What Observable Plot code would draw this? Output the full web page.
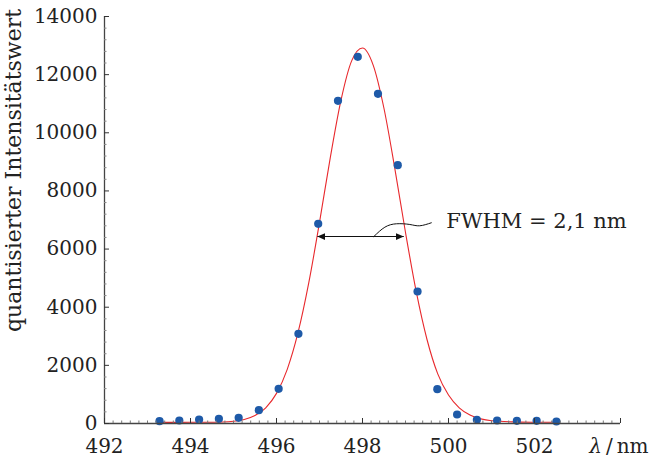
<!DOCTYPE html>
<html><head><meta charset="utf-8">
<script src="https://cdn.jsdelivr.net/npm/d3@7"></script>
<script src="https://cdn.jsdelivr.net/npm/@observablehq/plot@0.6"></script>
<style>body{margin:0;background:#fff} #chart svg{display:block}</style>
</head><body><div id="chart"></div>
<script>
// measured points
const wavelengths = [493.28, 493.74, 494.20, 494.66, 495.12, 495.59, 496.05, 496.51, 496.97, 497.43, 497.89, 498.36, 498.82, 499.28, 499.74, 500.20, 500.66, 501.13, 501.59, 502.05, 502.51];
const intensities = [80, 103, 138, 160, 195, 458, 1193, 3085, 6870, 11100, 12614, 11341, 8886, 4540, 1180, 310, 127, 103, 92, 92, 69];
// fitted curve
const fitWavelengths = [493.28, 493.75, 494.25, 494.75, 495.0, 495.25, 495.5, 495.75, 496.0, 496.25, 496.5, 496.75, 497.0, 497.25, 497.5, 497.75, 498.0, 498.25, 498.5, 498.75, 499.0, 499.25, 499.5, 499.75, 500.0, 500.25, 500.5, 500.75, 501.0, 501.5, 502.0, 502.51];
const fitIntensities = [40, 40, 42, 54, 79, 139, 272, 541, 1036, 1864, 3122, 4835, 6919, 9135, 11121, 12482, 12917, 12321, 10835, 8786, 6569, 4533, 2889, 1706, 980, 540, 290, 160, 95, 55, 45, 42];
// FWHM annotation
const fwhmArrow = [{x1: 496.95, x2: 498.96, y: 6430}];
const leaderX = [498.265, 498.52, 498.79, 499.10, 499.33, 499.60];
const leaderY = [6433, 6753, 6870, 6846, 6801, 6904];
const fwhmLabel = [{text: "FWHM = 2,1 nm", x: 499.95, y: 6959}];
// axes
const xMajorTicks = [492, 494, 496, 498, 500, 502, 504];
const xTickLabels = ["492", "494", "496", "498", "500", "502", ""];
const yMajorTicks = [0, 2000, 4000, 6000, 8000, 10000, 12000, 14000];
const yTickLabels = ["0", "2000", "4000", "6000", "8000", "10000", "12000", "14000"];
const xMinorTicks = d3.range(0, 61).map(i => +(492 + 0.2 * i).toFixed(1)).filter(v => !xMajorTicks.includes(v));
const yMinorTicks = d3.range(0, 14001, 400).filter(v => v % 2000 !== 0);
const xUnitLabel = "λ\u2009/\u2009nm";
const yAxisLabel = "quantisierter Intensitätswert";

const points = wavelengths.map((w, i) => ({w, v: intensities[i]}));
const fit = fitWavelengths.map((w, i) => ({w, v: fitIntensities[i]}));
const leader = leaderX.map((x, i) => ({x, y: leaderY[i]}));

const FONT = "'DejaVu Serif', serif";
const plot = Plot.plot({
  width: 652, height: 459,
  marginLeft: 104, marginRight: 32, marginTop: 16, marginBottom: 36,
  style: {fontFamily: FONT, fontSize: "20px", color: "#222", background: "white"},
  x: {domain: [492, 504], label: null},
  y: {domain: [0, 14000], label: null},
  marks: [
    Plot.line(fit, {x: "w", y: "v", stroke: "#e8282c", strokeWidth: 1.1, curve: "monotone-x"}),
    Plot.link(fwhmArrow, {x1: "x1", x2: "x2", y1: "y", y2: "y", stroke: "#111", strokeWidth: 1.1}),
    Plot.line(leader, {x: "x", y: "y", curve: "natural", stroke: "#111", strokeWidth: 1}),
    Plot.text(fwhmLabel, {x: "x", y: "y", text: "text", textAnchor: "start", lineAnchor: "middle", fontSize: 21, fill: "#222"}),
    Plot.dot(points, {x: "w", y: "v", r: 4.1, fill: "#1e5aa8"}),
    // axis lines
    Plot.ruleY([0], {stroke: "#444", strokeWidth: 1.3}),
    Plot.ruleX([492], {stroke: "#444", strokeWidth: 1.3}),
    // inward ticks
    Plot.axisX(xMinorTicks, {tickSize: 2.5, dy: -2.5, fill: "none", stroke: "#777", label: null}),
    Plot.axisX(xMajorTicks, {tickSize: 5, dy: -5, fill: "none", stroke: "#333", label: null}),
    Plot.axisY(yMinorTicks, {tickSize: 2.5, dx: 2.5, fill: "none", stroke: "#888", label: null}),
    Plot.axisY(yMajorTicks, {tickSize: 5, dx: 5, fill: "none", stroke: "#333", label: null}),
    // tick labels
    Plot.axisX(xMajorTicks, {tickSize: 0, tickPadding: 15, tickFormat: d => xTickLabels[xMajorTicks.indexOf(d)], fontSize: 20, fill: "#222", label: null}),
    Plot.axisY(yMajorTicks, {tickSize: 0, tickPadding: 7, tickFormat: d => yTickLabels[yMajorTicks.indexOf(d)], fontSize: 20, fill: "#222", label: null}),
    // axis titles
    Plot.text([xUnitLabel], {frameAnchor: "bottom-right", text: d => d, textAnchor: "end", lineAnchor: "top", dx: 28, dy: 15, fontSize: 20, fill: "#222"}),
    Plot.text([yAxisLabel], {frameAnchor: "top-left", text: d => d, rotate: -90, textAnchor: "middle", lineAnchor: "middle", dx: -91, dy: 154, fontSize: 22, fill: "#222"})
  ]
});

// filled arrowheads for the FWHM double arrow
const ns = "http://www.w3.org/2000/svg";
const defs = document.createElementNS(ns, "defs");
const marker = document.createElementNS(ns, "marker");
marker.setAttribute("id", "fwhm-head");
marker.setAttribute("viewBox", "0 -3.5 8 7");
marker.setAttribute("refX", "8");
marker.setAttribute("refY", "0");
marker.setAttribute("markerWidth", "8");
marker.setAttribute("markerHeight", "7");
marker.setAttribute("markerUnits", "userSpaceOnUse");
marker.setAttribute("orient", "auto-start-reverse");
const mp = document.createElementNS(ns, "path");
mp.setAttribute("d", "M0,-3.5L8,0L0,3.5Z");
mp.setAttribute("fill", "#111");
marker.appendChild(mp);
defs.appendChild(marker);
plot.insertBefore(defs, plot.firstChild);
plot.querySelectorAll('g[aria-label="link"] path').forEach(p => {
  p.setAttribute("marker-start", "url(#fwhm-head)");
  p.setAttribute("marker-end", "url(#fwhm-head)");
});
// italic lambda
plot.querySelectorAll("text").forEach(t => {
  if (t.textContent === xUnitLabel) {
    t.textContent = "";
    const a = document.createElementNS(ns, "tspan");
    a.setAttribute("font-style", "italic");
    a.textContent = "λ";
    const b = document.createElementNS(ns, "tspan");
    b.textContent = "\u2009/\u2009nm";
    t.appendChild(a); t.appendChild(b);
  }
});
document.getElementById("chart").appendChild(plot);
</script>
</body></html>
